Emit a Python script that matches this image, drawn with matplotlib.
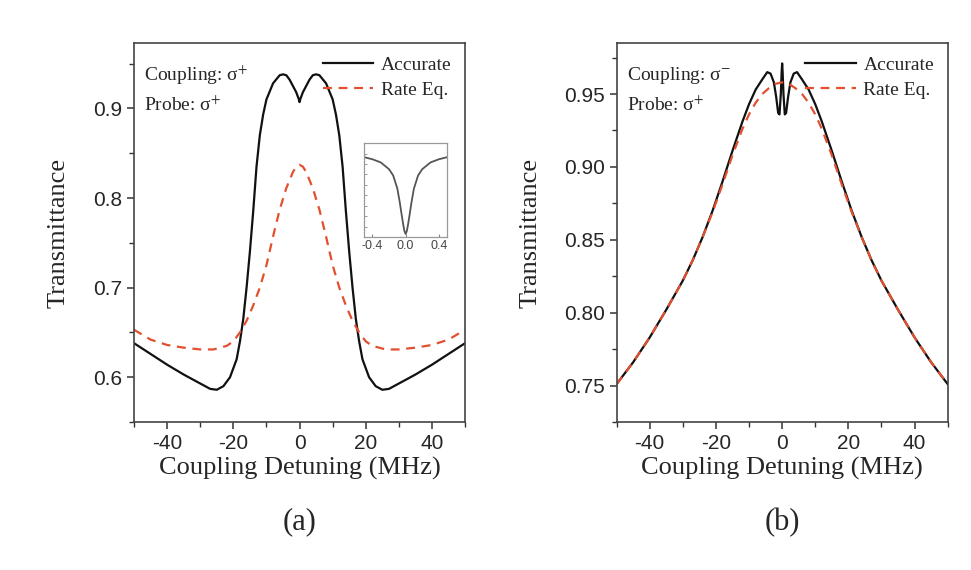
import numpy as np
import matplotlib
matplotlib.use('Agg')
import matplotlib.pyplot as plt
from matplotlib.ticker import MultipleLocator

plt.rcParams['mathtext.fontset'] = 'stix'
plt.rcParams['axes.unicode_minus'] = False

# panel (a): sigma+ coupling, sigma+ probe
det_a = [-50, -45, -40, -35, -30, -27, -25, -23, -21, -19, -18, -17, -16, -15, -14, -13, -12, -11, -10, -8, -6, -5, -4, -3, -2, -1, -0.5, -0.2, 0,
         0.2, 0.5, 1, 2, 3, 4, 5, 6, 8, 10, 11, 12, 13, 14, 15, 16, 17, 18, 19, 21, 23, 25, 27, 30, 35, 40, 45, 50]
acc_a = [0.638, 0.626, 0.614, 0.603, 0.593, 0.587, 0.586, 0.590, 0.600, 0.620, 0.640, 0.665, 0.700, 0.740, 0.785, 0.835, 0.870, 0.893, 0.910, 0.928, 0.937, 0.938, 0.937, 0.932, 0.925, 0.918, 0.913, 0.910, 0.907,
         0.910, 0.913, 0.918, 0.925, 0.932, 0.937, 0.938, 0.937, 0.928, 0.910, 0.893, 0.870, 0.835, 0.785, 0.740, 0.700, 0.665, 0.640, 0.620, 0.600, 0.590, 0.586, 0.587, 0.593, 0.603, 0.614, 0.626, 0.638]
det_a_rate = [-50, -45, -40, -35, -30, -26, -22, -20, -18, -16, -14, -12, -10, -8, -6, -4, -2, -1, 0,
              1, 2, 4, 6, 8, 10, 12, 14, 16, 18, 20, 22, 26, 30, 35, 40, 45, 50]
rate_a = [0.653, 0.642, 0.636, 0.633, 0.631, 0.631, 0.635, 0.640, 0.650, 0.663, 0.680, 0.700, 0.725, 0.757, 0.787, 0.811, 0.829, 0.835, 0.837,
          0.835, 0.829, 0.811, 0.787, 0.757, 0.725, 0.700, 0.680, 0.663, 0.650, 0.640, 0.635, 0.631, 0.631, 0.633, 0.636, 0.642, 0.653]

# inset of panel (a): accurate curve around zero detuning
det_in = [-0.5, -0.4, -0.3, -0.2, -0.15, -0.1, -0.07, -0.05, -0.03, -0.015, 0, 0.015, 0.03, 0.05, 0.07, 0.1, 0.15, 0.2, 0.3, 0.4, 0.5]
acc_in = [0.9213, 0.9209, 0.9203, 0.9190, 0.9178, 0.9153, 0.9126, 0.9105, 0.9085, 0.9072, 0.9066, 0.9072, 0.9085, 0.9105, 0.9126, 0.9153, 0.9178, 0.9190, 0.9203, 0.9209, 0.9213]

# panel (b): sigma- coupling, sigma+ probe
det_b = [-50, -45, -40, -35, -30, -27, -24, -21, -18, -15, -12, -10, -8, -6, -4.5, -3.5, -2.5, -1.8, -1.2, -0.8, -0.4, -0.15, 0,
         0.15, 0.4, 0.8, 1.2, 1.8, 2.5, 3.5, 4.5, 6, 8, 10, 12, 15, 18, 21, 24, 27, 30, 35, 40, 45, 50]
acc_b = [0.751, 0.766, 0.783, 0.802, 0.822, 0.836, 0.852, 0.870, 0.890, 0.911, 0.931, 0.943, 0.953, 0.960, 0.965, 0.964, 0.958, 0.948, 0.937, 0.936, 0.950, 0.965, 0.971,
         0.965, 0.950, 0.936, 0.937, 0.948, 0.958, 0.964, 0.965, 0.960, 0.953, 0.943, 0.931, 0.911, 0.890, 0.870, 0.852, 0.836, 0.822, 0.802, 0.783, 0.766, 0.751]
det_b_rate = [-50, -45, -40, -35, -30, -27, -24, -21, -18, -15, -12, -10, -8, -6, -4, -2, 0,
              2, 4, 6, 8, 10, 12, 15, 18, 21, 24, 27, 30, 35, 40, 45, 50]
rate_b = [0.751, 0.766, 0.783, 0.802, 0.822, 0.836, 0.852, 0.869, 0.888, 0.908, 0.926, 0.936, 0.944, 0.950, 0.954, 0.957, 0.958,
          0.957, 0.954, 0.950, 0.944, 0.936, 0.926, 0.908, 0.888, 0.869, 0.852, 0.836, 0.822, 0.802, 0.783, 0.766, 0.751]

red = '#e2502f'
txt = '#262626'
serif = 'Liberation Serif'
sans = 'Liberation Sans'

fig = plt.figure(figsize=(9.71, 5.70), dpi=100)
ax_a = fig.add_axes([0.138, 0.2596, 0.341, 0.665])
ax_b = fig.add_axes([0.635, 0.2596, 0.341, 0.665])


def style(ax, ylim, major, minor, fmt):
    ax.set_xlim(-50, 50)
    ax.set_ylim(*ylim)
    ax.xaxis.set_major_locator(MultipleLocator(20))
    ax.xaxis.set_minor_locator(MultipleLocator(10))
    ax.yaxis.set_major_locator(MultipleLocator(major))
    ax.yaxis.set_minor_locator(MultipleLocator(minor))
    ax.yaxis.set_major_formatter(plt.FormatStrFormatter(fmt))
    ax.tick_params(which='both', direction='out', top=False, right=False, colors='#333333',
                   labelcolor=txt, labelsize=15)
    ax.tick_params(which='major', length=5, width=1.1)
    ax.tick_params(which='minor', length=3.5, width=1.0)
    for lab in ax.get_xticklabels() + ax.get_yticklabels():
        lab.set_family(sans)
    for s in ax.spines.values():
        s.set_color('#444444')
        s.set_linewidth(1.2)
    ax.set_xlabel('Coupling Detuning (MHz)', family=serif, fontsize=19, color=txt, labelpad=3)
    ax.set_ylabel('Transmittance', family=serif, fontsize=19, color=txt)


ax_a.plot(det_a, acc_a, color='#111111', lw=1.6, label='Accurate')
ax_a.plot(det_a_rate, rate_a, color=red, lw=1.6, ls=(0, (4, 3)), label='Rate Eq.')
style(ax_a, (0.55, 0.973), 0.1, 0.05, '%.1f')
ax_a.yaxis.set_label_coords(-0.195, 0.5)

ax_b.plot(det_b, acc_b, color='#111111', lw=1.6, label='Accurate')
ax_b.plot(det_b_rate, rate_b, color=red, lw=1.6, ls=(0, (4, 3)), label='Rate Eq.')
style(ax_b, (0.725, 0.985), 0.05, 0.025, '%.2f')
ax_b.yaxis.set_label_coords(-0.228, 0.5)

for ax, coup in [(ax_a, 'Coupling: σ$^{+}$'), (ax_b, 'Coupling: σ$^{-}$')]:
    ax.legend(loc='upper right', frameon=False, handlelength=2.6, handletextpad=0.4,
              labelspacing=0.35, borderaxespad=0.3, prop={'family': serif, 'size': 14},
              labelcolor=txt)
    ax.text(0.03, 0.915, coup, transform=ax.transAxes, family=serif, fontsize=14,
            color=txt, va='center', ha='left')
    ax.text(0.03, 0.835, 'Probe: σ$^{+}$', transform=ax.transAxes, family=serif,
            fontsize=14, color=txt, va='center', ha='left')

# inset
ax_in = fig.add_axes([0.375, 0.584, 0.0855, 0.165])
ax_in.plot(det_in, acc_in, color='#555555', lw=1.3)
ax_in.set_xlim(-0.5, 0.5)
ax_in.set_ylim(0.906, 0.924)
ax_in.set_xticks([-0.4, 0.0, 0.4])
ax_in.set_xticklabels(['-0.4', '0.0', '0.4'])
ax_in.yaxis.set_minor_locator(MultipleLocator(0.002))
ax_in.set_yticks([])
ax_in.tick_params(which='both', direction='in', top=False, right=False, colors='#888888',
                  labelcolor='#444444', labelsize=9, length=2, pad=2)
for lab in ax_in.get_xticklabels():
    lab.set_family(sans)
for s in ax_in.spines.values():
    s.set_color('#999999')
    s.set_linewidth(0.9)

fig.text(0.309, 0.084, '(a)', family=serif, fontsize=22, color=txt, ha='center', va='center')
fig.text(0.806, 0.084, '(b)', family=serif, fontsize=22, color=txt, ha='center', va='center')

fig.savefig('out.png', dpi=100, facecolor='white')
